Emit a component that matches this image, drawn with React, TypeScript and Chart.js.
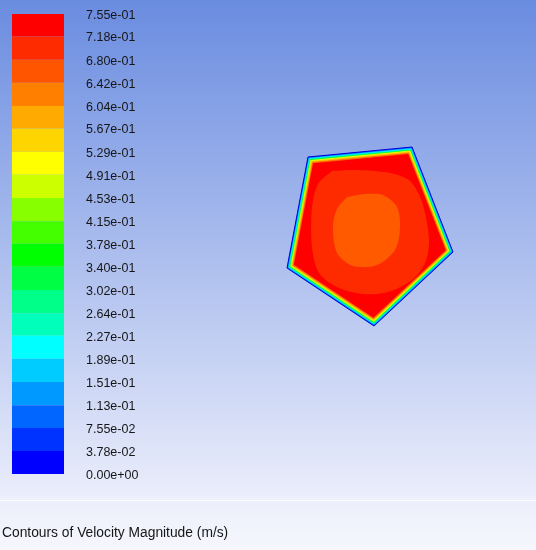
import { useEffect, useRef } from "react";
import { Chart, registerables } from "chart.js";

Chart.register(...registerables);

// ---------- data ----------
// contour levels (m/s), bottom to top of the colour bar
const LEVELS = [
  0, 0.0378, 0.0755, 0.113, 0.151, 0.189, 0.227, 0.264, 0.302, 0.34, 0.378,
  0.415, 0.453, 0.491, 0.529, 0.567, 0.604, 0.642, 0.68, 0.718, 0.755,
];
const LEVEL_LABELS = [
  "0.00e+00", "3.78e-02", "7.55e-02", "1.13e-01", "1.51e-01", "1.89e-01",
  "2.27e-01", "2.64e-01", "3.02e-01", "3.40e-01", "3.78e-01", "4.15e-01",
  "4.53e-01", "4.91e-01", "5.29e-01", "5.67e-01", "6.04e-01", "6.42e-01",
  "6.80e-01", "7.18e-01", "7.55e-01",
];
// band colours, bottom to top
const BAND_COLORS = [
  "#0000ff", "#0033ff", "#0066ff", "#0099ff", "#00ccff", "#00ffff", "#00ffbb",
  "#00ff88", "#00ff44", "#00ff00", "#44ff00", "#88ff00", "#ccff00", "#ffff00",
  "#ffd500", "#ffaa00", "#ff8000", "#ff5500", "#ff2b00", "#ff0000",
];
const TITLE = "Contours of Velocity Magnitude (m/s)";

// geometry (mm) - pentagonal duct cross-section and its contour bands
const WALL = [[-29.5, 36.5], [22.5, 41.5], [43, -11], [3.5, -48], [-40, -19]];
const BL1 = [[-29.1, 36.0], [22.2, 40.9], [42.4, -10.8], [3.5, -47.3], [-39.4, -18.7]];
const BL2 = [[-28.7, 35.5], [21.9, 40.3], [41.8, -10.7], [3.4, -46.7], [-38.9, -18.5]];
const BL3 = [[-28.3, 35.0], [21.6, 39.8], [41.2, -10.5], [3.4, -46.0], [-38.3, -18.2]];
const BL4 = [[-27.9, 34.5], [21.2, 39.2], [40.6, -10.4], [3.3, -45.3], [-37.8, -17.9]];
const BL5 = [[-27.4, 34.0], [20.9, 38.6], [40.0, -10.2], [3.3, -44.6], [-37.2, -17.7]];
const CORE_RED = [[-27.0, 33.4], [20.6, 38.0], [39.4, -10.1], [3.2, -43.9], [-36.6, -17.4]];
const RING = [
  [-17.5, 29.5], [-6, 30], [11.5, 28.5], [21.5, 24.5], [27.5, 14], [31, -5],
  [29, -16.5], [22.5, -25], [10.5, -31], [-2.5, -32], [-15, -28.5], [-24, -21.5],
  [-27.5, -8.5], [-27.5, 11], [-24.5, 23],
];
const CENTER = [
  [-10, 16.5], [-1, 18], [8, 17.5], [15, 11.5], [16.5, 1], [14, -10], [5, -17.5],
  [-7, -18], [-15, -11.5], [-17, 1.5], [-15, 10.5],
];

// ---------- layout / style ----------
const W = 536;
const H = 550;
const CB = { top: 14, bottom: 474, left: 12, right: 64, labelX: 86 };
const VIEW = { cx: 367, cy: 230, pxPerMm: 2 };

const polys: { pts: number[][]; color: string; border?: string; tension?: number }[] = [
  { pts: CENTER, color: "#ff5a00", tension: 0.3 },
  { pts: RING, color: "#ff2b00", tension: 0.3 },
  { pts: CORE_RED, color: "#ff0000" },
  { pts: BL5, color: "#ff6a00" },
  { pts: BL4, color: "#ffc000" },
  { pts: BL3, color: "#d8ff00" },
  { pts: BL2, color: "#00ff50" },
  { pts: BL1, color: "#00e8ff" },
  { pts: WALL, color: "#0070ff", border: "#0000dd" },
];

const bgPlugin = {
  id: "bg",
  beforeDraw(chart: any) {
    const ctx = chart.ctx as CanvasRenderingContext2D;
    ctx.save();
    const g = ctx.createLinearGradient(0, 0, 0, 497);
    g.addColorStop(0, "rgb(106,140,224)");
    g.addColorStop(1, "rgb(234,237,251)");
    ctx.fillStyle = g;
    ctx.fillRect(0, 0, W, 497);
    ctx.fillStyle = "rgb(238,240,252)";
    ctx.fillRect(0, 497, W, 3);
    ctx.fillStyle = "#fbfcff";
    ctx.fillRect(0, 500, W, 1);
    const g2 = ctx.createLinearGradient(0, 501, 0, H);
    g2.addColorStop(0, "rgb(236,239,251)");
    g2.addColorStop(1, "rgb(246,247,253)");
    ctx.fillStyle = g2;
    ctx.fillRect(0, 501, W, H - 501);
    ctx.restore();
  },
};

const textPlugin = {
  id: "texts",
  afterDraw(chart: any) {
    const ctx = chart.ctx as CanvasRenderingContext2D;
    const ys = chart.scales.yLev;
    ctx.save();
    ctx.fillStyle = "#161616";
    ctx.font = "12.5px 'Liberation Sans', Arial, sans-serif";
    ctx.textBaseline = "middle";
    ctx.textAlign = "left";
    LEVELS.forEach((v, i) => {
      ctx.fillText(LEVEL_LABELS[i], CB.labelX, ys.getPixelForValue(v) + 1.5);
    });
    ctx.font = "13.8px 'Liberation Sans', Arial, sans-serif";
    ctx.fillText(TITLE, 2, 533);
    ctx.restore();
  },
};

export default function App() {
  const ref = useRef<HTMLCanvasElement>(null);
  useEffect(() => {
    document.body.style.margin = "0";
    const canvas = ref.current!;
    const vTop = LEVELS[LEVELS.length - 1];
    const vBot = LEVELS[0];
    const span = ((vTop - vBot) * H) / (CB.bottom - CB.top);
    const yLevMax = vTop + (CB.top / H) * span;
    const yLevMin = yLevMax - span;

    const shape = (pts: { x: number; y: number }[], extra: any) => ({
      type: "line",
      data: pts,
      showLine: true,
      fill: "shape",
      pointRadius: 0,
      clip: false,
      ...extra,
    });

    const datasets: any[] = polys.map((p, i) =>
      shape(
        [...p.pts, p.pts[0]].map(([x, y]) => ({ x, y })),
        {
          xAxisID: "xGeo",
          yAxisID: "yGeo",
          backgroundColor: p.color,
          borderColor: p.border || p.color,
          borderWidth: p.border ? 1 : 0,
          tension: p.tension || 0,
          order: i,
        }
      )
    );
    // colour bar: one filled rectangle per contour band
    BAND_COLORS.forEach((c, i) => {
      const lo = LEVELS[i];
      const hi = LEVELS[i + 1];
      datasets.push(
        shape(
          [
            { x: CB.left, y: lo },
            { x: CB.right, y: lo },
            { x: CB.right, y: hi },
            { x: CB.left, y: hi },
            { x: CB.left, y: lo },
          ],
          {
            xAxisID: "xPx",
            yAxisID: "yLev",
            backgroundColor: c,
            borderWidth: 0,
            tension: 0,
            order: 100 + i,
          }
        )
      );
    });

    const chart = new Chart(canvas, {
      type: "scatter",
      data: { datasets },
      options: {
        animation: false,
        responsive: false,
        devicePixelRatio: 1,
        events: [],
        layout: { padding: 0 },
        plugins: { legend: { display: false }, tooltip: { enabled: false }, title: { display: false } },
        scales: {
          x: { type: "linear", display: false },
          y: { type: "linear", display: false },
          xPx: { type: "linear", display: false, min: 0, max: W },
          yLev: { type: "linear", display: false, min: yLevMin, max: yLevMax },
          xGeo: {
            type: "linear",
            display: false,
            min: -VIEW.cx / VIEW.pxPerMm,
            max: (W - VIEW.cx) / VIEW.pxPerMm,
          },
          yGeo: {
            type: "linear",
            display: false,
            min: -(H - VIEW.cy) / VIEW.pxPerMm,
            max: VIEW.cy / VIEW.pxPerMm,
          },
        },
      } as any,
      plugins: [bgPlugin, textPlugin],
    } as any);
    return () => chart.destroy();
  }, []);
  return <canvas ref={ref} width={W} height={H} style={{ display: "block" }} />;
}
